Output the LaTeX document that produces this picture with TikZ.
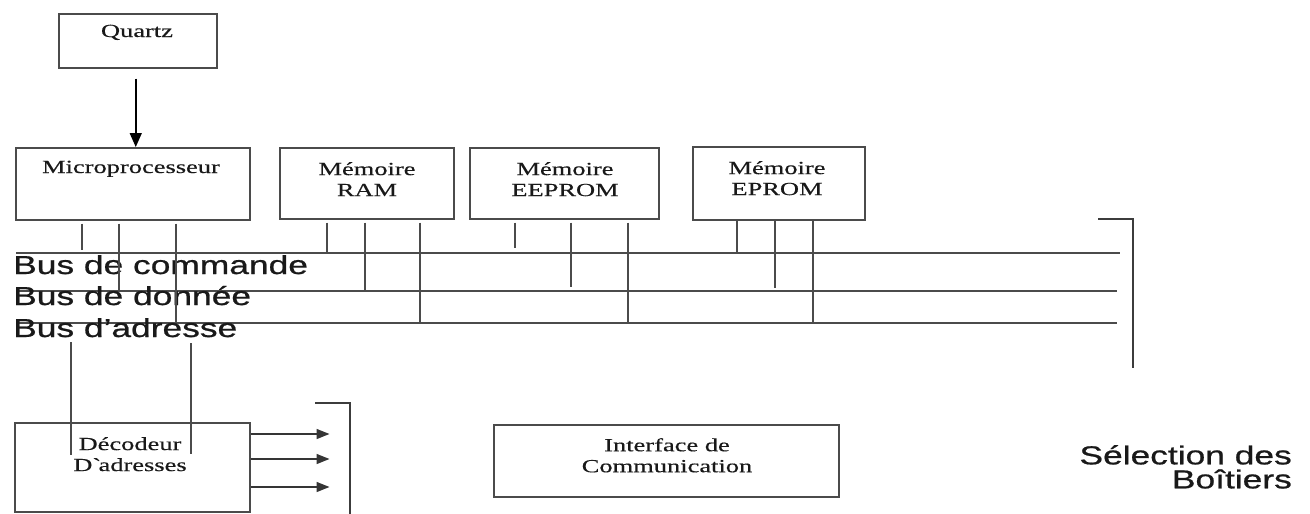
\documentclass[tikz,border=0pt]{standalone}
\usepackage{fontspec}
\setmainfont{Liberation Serif}[FakeStretch=1.43,FakeBold=0.4]
\newfontfamily\labelsans{Liberation Sans}[FakeStretch=1.36,FakeBold=0.8]
\usetikzlibrary{arrows.meta,calc}
\definecolor{linegray}{RGB}{75,75,75}
\definecolor{ink}{RGB}{25,25,25}

\begin{document}
\begin{tikzpicture}[x=1pt,y=-1pt,
  box/.style={draw=linegray, line width=1.5pt, inner sep=0pt, anchor=north west},
  serif/.style={text=ink, inner sep=0pt, font=\fontsize{18.5}{21}\selectfont, align=center},
  sans/.style={text=ink, inner sep=0pt, font=\labelsans\fontsize{26}{24}\selectfont},
  bus/.style={draw=linegray, line width=1.9pt},
  tap/.style={draw=linegray, line width=1.6pt},
  bracket/.style={draw=linegray!80!black, line width=1.6pt},
  feed/.style={draw=black, line width=1.5pt, -{Triangle[length=14pt,width=12pt]}},
  sel/.style={draw=linegray!70!black, line width=1.5pt, -{Triangle[length=13pt,width=10pt]}}]
\useasboundingbox (0,0) rectangle (1310,514);

% boxes
\node[box, minimum width=158pt, minimum height=54pt] (quartz) at (58,13) {};
\node[box, minimum width=234pt, minimum height=72pt] (cpu) at (15,147) {};
\node[box, minimum width=174pt, minimum height=71pt] (ram) at (279,147) {};
\node[box, minimum width=189pt, minimum height=71pt] (eeprom) at (469,147) {};
\node[box, minimum width=172pt, minimum height=73pt] (eprom) at (692,146) {};
\node[box, minimum width=235pt, minimum height=89pt] (dec) at (14,422) {};
\node[box, minimum width=345pt, minimum height=72pt] (comm) at (493,424) {};

% box captions
\node[serif, anchor=base] (quartzT) at (137,37) {Quartz};
\node[serif, anchor=base] (cpuT) at (131,173) {Microprocesseur};
\node[serif, anchor=north] (ramT) at (367,162) {Mémoire\\RAM};
\node[serif, anchor=north] (eepromT) at (565,162) {Mémoire\\EEPROM};
\node[serif, anchor=north] (epromT) at (777,161) {Mémoire\\EPROM};
\node[serif, anchor=north] (decT) at (130,437) {Décodeur\\D\textasciigrave adresses};
\node[serif, anchor=north] (commT) at (667,438) {Interface de\\Communication};

% clock feed
\draw[feed] ($(quartz.south)+(-2,10)$) coordinate (qa) -- (qa |- cpu.north);

% buses
\coordinate (cmdL) at (16,253);  \coordinate (cmdR) at (1120,253);
\coordinate (datL) at (16,291);  \coordinate (datR) at (1117,291);
\coordinate (adrL) at (16,323);  \coordinate (adrR) at (1117,323);
\draw[bus] (cmdL) -- (cmdR);
\draw[bus] (datL) -- (datR);
\draw[bus] (adrL) -- (adrR);
\node[sans, anchor=base west] (cmdT) at (13,274) {Bus de commande};
\node[sans, anchor=base west] (datT) at (13,305) {Bus de donnée};
\node[sans, anchor=base west] (adrT) at (13,337) {Bus d’adresse};

% microprocessor taps
\draw[tap] ($(cpu.south west)+(67,3)$) -- ++(0,26);
\draw[tap] ($(cpu.south west)+(104,3)$) coordinate (c2) -- (c2 |- datL);
\draw[tap] ($(cpu.south west)+(161,3)$) coordinate (c3) -- (c3 |- adrL);

% RAM taps
\draw[tap] ($(ram.south west)+(48,3)$) -- ++(0,30);
\draw[tap] ($(ram.south west)+(86,3)$) coordinate (r2) -- (r2 |- datL);
\draw[tap] ($(ram.south west)+(141,3)$) coordinate (r3) -- (r3 |- adrL);

% EEPROM taps
\draw[tap] ($(eeprom.south west)+(46,3)$) -- ++(0,25);
\draw[tap] ($(eeprom.south west)+(102,3)$) -- ++(0,64);
\draw[tap] ($(eeprom.south west)+(159,3)$) coordinate (e3) -- (e3 |- adrL);

% EPROM taps
\draw[tap] ($(eprom.south west)+(45,0)$) -- ++(0,31);
\draw[tap] ($(eprom.south west)+(83,0)$) -- ++(0,67);
\draw[tap] ($(eprom.south west)+(121,0)$) coordinate (p3) -- (p3 |- adrL);

% address lines into the decoder
\draw[tap] ($(dec.north west)+(57,-80)$) -- ++(0,113);
\draw[tap] ($(dec.north west)+(177,-79)$) -- ++(0,111);

% chip-select outputs
\draw[sel] ($(dec.north east)+(0,12)$) -- ++(79,0);
\draw[sel] ($(dec.north east)+(0,37)$) -- ++(79,0);
\draw[sel] ($(dec.north east)+(0,65)$) -- ++(79,0);

% brackets
\coordinate (b1a) at (315,403); \coordinate (b1b) at (350,403); \coordinate (b1c) at (350,514);
\draw[bracket] (b1a) -- (b1b) -- (b1c);
\coordinate (b2a) at (1098,219); \coordinate (b2b) at (1133,219); \coordinate (b2c) at (1133,368);
\draw[bracket] (b2a) -- (b2b) -- (b2c);

\node[sans, anchor=north east, align=right] (selT) at (1292,445) {Sélection des\\Boîtiers};
\end{tikzpicture}
\end{document}
